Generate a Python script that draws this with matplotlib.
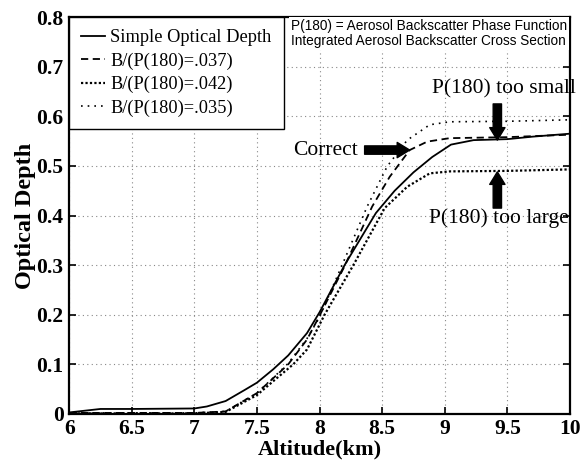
import matplotlib
matplotlib.use('Agg')
import matplotlib.pyplot as plt

# データ
x_simple = [6.0, 6.25, 6.5, 7.0, 7.1, 7.25, 7.4, 7.5, 7.63, 7.75, 7.9, 8.0,
            8.2, 8.45, 8.6, 8.75, 8.9, 9.05, 9.23, 9.5, 9.7, 10.0]
y_simple = [0.003, 0.010, 0.010, 0.011, 0.015, 0.026, 0.048, 0.063, 0.090, 0.118, 0.163, 0.205,
            0.300, 0.405, 0.450, 0.487, 0.518, 0.543, 0.552, 0.554, 0.559, 0.565]

x_037 = [6.0, 7.0, 7.25, 7.5, 7.63, 7.75, 7.9, 8.0, 8.2, 8.42, 8.56, 8.72, 8.86, 9.04, 9.5, 10.0]
y_037 = [0.002, 0.002, 0.005, 0.042, 0.072, 0.100, 0.150, 0.198, 0.298, 0.418, 0.478, 0.532,
         0.549, 0.556, 0.558, 0.563]

x_042 = [6.0, 7.0, 7.25, 7.5, 7.63, 7.79, 7.9, 8.04, 8.27, 8.52, 8.70, 8.88, 9.04, 9.5, 10.0]
y_042 = [0.001, 0.001, 0.004, 0.038, 0.066, 0.100, 0.130, 0.200, 0.300, 0.415, 0.458, 0.485,
         0.489, 0.490, 0.493]

x_035 = [6.0, 7.0, 7.25, 7.5, 7.63, 7.75, 7.9, 8.0, 8.18, 8.38, 8.54, 8.70, 8.88, 9.04, 9.5, 10.0]
y_035 = [0.002, 0.002, 0.005, 0.042, 0.073, 0.102, 0.152, 0.195, 0.300, 0.418, 0.499, 0.552,
         0.583, 0.589, 0.590, 0.593]

labels = ['Simple Optical Depth', 'B/(P(180)=.037)', 'B/(P(180)=.042)', 'B/(P(180)=.035)']
x_ticks = [6, 6.5, 7, 7.5, 8, 8.5, 9, 9.5, 10]
x_ticklabels = ['6', '6.5', '7', '7.5', '8', '8.5', '9', '9.5', '10']
y_ticks = [0, 0.1, 0.2, 0.3, 0.4, 0.5, 0.6, 0.7, 0.8]
y_ticklabels = ['0', '0.1', '0.2', '0.3', '0.4', '0.5', '0.6', '0.7', '0.8']

serif = 'Liberation Serif'
sans = 'Liberation Sans'

fig = plt.figure(figsize=(5.81, 4.63), dpi=100)
ax = fig.add_axes([0.119, 0.106, 0.862, 0.857])

ax.plot(x_simple, y_simple, color='black', lw=1.3, linestyle='-', label=labels[0])
ax.plot(x_037, y_037, color='black', lw=1.3, linestyle=(0, (4, 2.5)), label=labels[1])
ax.plot(x_042, y_042, color='black', lw=1.6, linestyle=(0, (1, 1)), label=labels[2])
ax.plot(x_035, y_035, color='black', lw=1.2, linestyle=(0, (1, 3)), label=labels[3])

ax.set_xlim(6, 10)
ax.set_ylim(0, 0.8)
ax.set_xticks(x_ticks)
ax.set_xticklabels(x_ticklabels, fontfamily=serif, fontweight='bold', fontsize=15.5)
ax.set_yticks(y_ticks)
ax.set_yticklabels(y_ticklabels, fontfamily=serif, fontweight='bold', fontsize=15.5)
ax.tick_params(direction='in', top=True, right=True, length=5, width=1.2)
ax.tick_params(axis='x', pad=4)
ax.tick_params(axis='y', pad=4)
ax.grid(True, linestyle=(0, (1, 3)), color='#888888', lw=0.8)
for s in ax.spines.values():
    s.set_linewidth(1.6)

ax.set_xlabel('Altitude(km)', fontfamily=serif, fontweight='bold', fontsize=16, labelpad=0)
ax.set_ylabel('Optical Depth', fontfamily=serif, fontweight='bold', fontsize=17.5, labelpad=0)

leg = ax.legend(loc='upper left', borderaxespad=0, handlelength=1.3, handletextpad=0.3,
                labelspacing=0.34, borderpad=0.65, fancybox=False, framealpha=1,
                prop={'family': serif, 'size': 13.2})
leg.get_frame().set_edgecolor('black')
leg.get_frame().set_linewidth(1.0)

# 注釈
ax.text(7.77, 0.797, 'P(180) = Aerosol Backscatter Phase Function\nIntegrated Aerosol Backscatter Cross Section',
        fontfamily=sans, fontsize=9.8, va='top', ha='left', linespacing=1.15, zorder=5,
        bbox=dict(facecolor='white', edgecolor='none', pad=1.5))

ax.text(9.47, 0.655, 'P(180) too small', fontfamily=serif, fontsize=15.5, ha='center', va='center')
ax.text(9.43, 0.395, 'P(180) too large', fontfamily=serif, fontsize=15.5, ha='center', va='center')
ax.text(8.05, 0.532, 'Correct', fontfamily=serif, fontsize=15.5, ha='center', va='center')

arrow_style = dict(arrowstyle='simple,head_width=1.1,head_length=0.9,tail_width=0.6',
                   color='black', shrinkA=0, shrinkB=0)
ax.annotate('', xy=(8.72, 0.532), xytext=(8.36, 0.532), arrowprops=arrow_style)
ax.annotate('', xy=(9.42, 0.552), xytext=(9.42, 0.625), arrowprops=arrow_style)
ax.annotate('', xy=(9.42, 0.488), xytext=(9.42, 0.415), arrowprops=arrow_style)

fig.savefig('out.png', dpi=100)
